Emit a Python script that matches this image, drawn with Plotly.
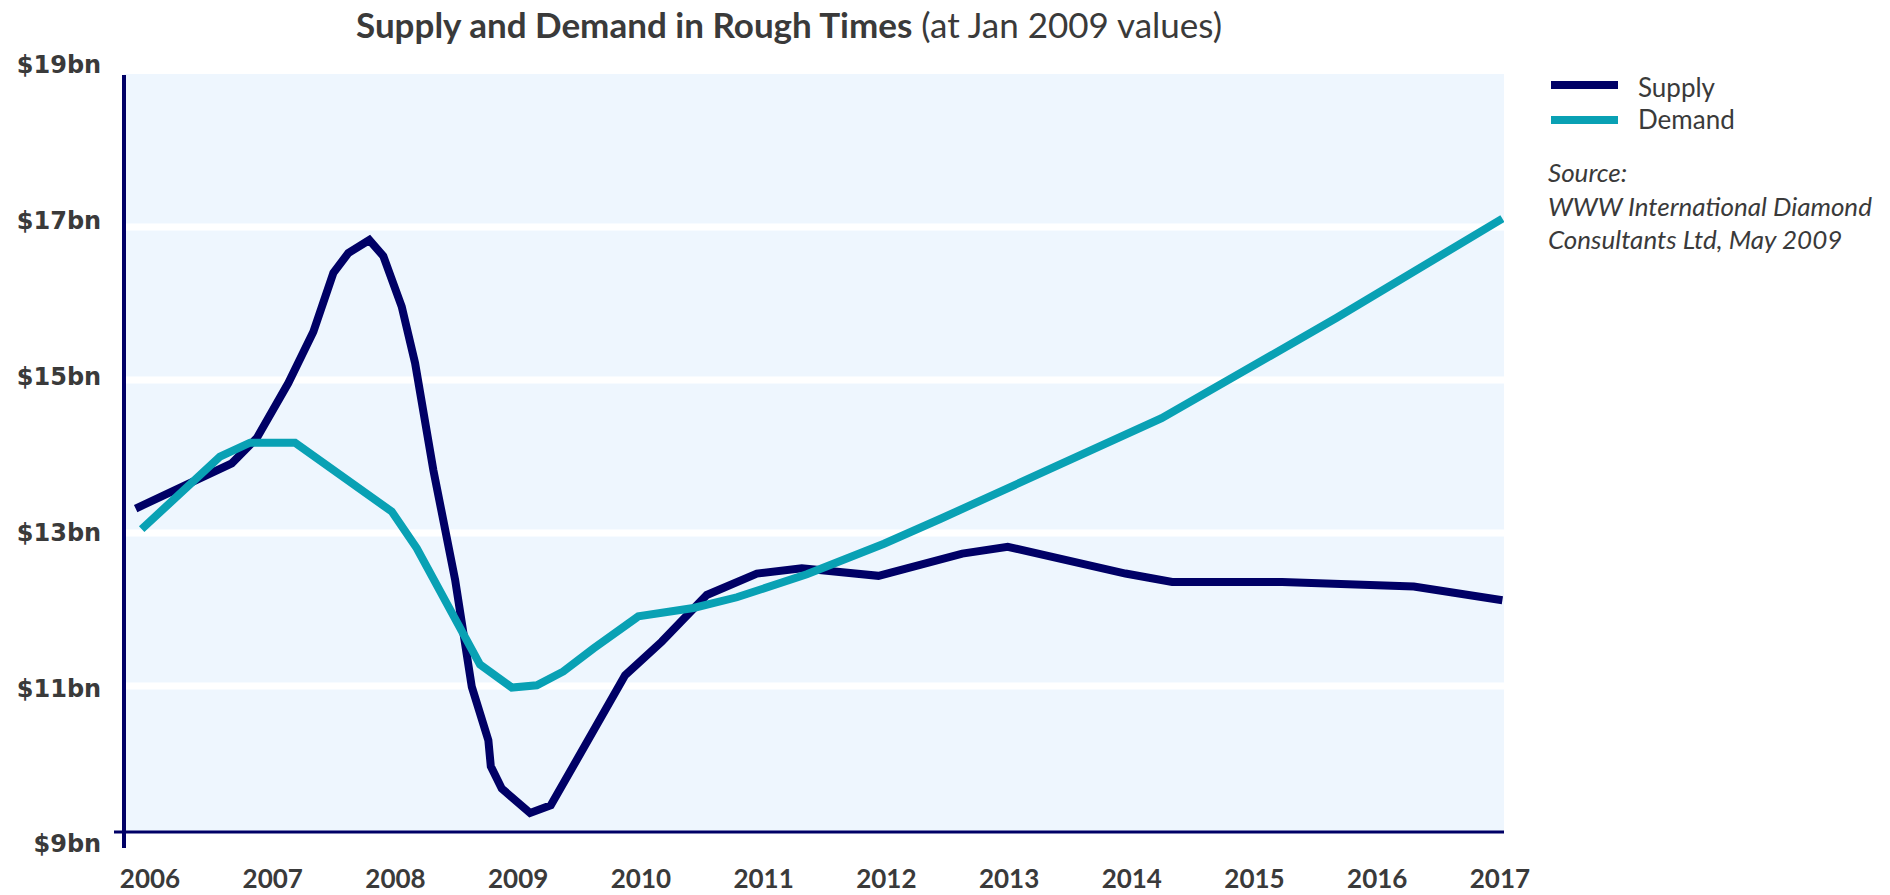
import plotly.graph_objects as go

# ---------------- data ----------------
supply_x = [2005.883, 2006.666, 2006.870, 2007.127, 2007.331, 2007.494, 2007.616, 2007.787,
            2007.901, 2008.051, 2008.160, 2008.309, 2008.486, 2008.581, 2008.622, 2008.757,
            2008.777, 2008.866, 2009.097, 2009.266, 2009.871, 2010.170, 2010.537, 2010.945,
            2011.311, 2011.936, 2012.619, 2012.989, 2013.294, 2013.949, 2014.329, 2015.226,
            2016.298, 2017.020]
supply_y = [13.32, 13.91, 14.24, 14.96, 15.63, 16.40, 16.66, 16.83,
            16.62, 15.96, 15.22, 13.82, 12.39, 11.47, 10.99, 10.29,
            9.95, 9.66, 9.34, 9.44, 11.14, 11.58, 12.19, 12.47,
            12.54, 12.44, 12.73, 12.82, 12.71, 12.47, 12.36, 12.36,
            12.30, 12.12]

demand_x = [2005.932, 2006.570, 2006.815, 2007.182, 2007.970, 2008.174, 2008.689, 2008.948,
            2009.152, 2009.368, 2009.613, 2009.979, 2010.428, 2010.782, 2011.352, 2011.981,
            2012.447, 2014.243, 2015.666, 2017.020]
demand_y = [13.05, 14.00, 14.18, 14.18, 13.28, 12.80, 11.28, 10.98,
            11.01, 11.19, 11.49, 11.91, 12.02, 12.16, 12.46, 12.86,
            13.19, 14.50, 15.81, 17.11]

series_names = ["Supply", "Demand"]
series_colors = ["#000066", "#09A1B4"]

year_ticks = list(range(2006, 2018))
year_labels = [str(y) for y in year_ticks]
value_ticks = [9, 11, 13, 15, 17, 19]
value_labels = ["$%dbn" % v for v in value_ticks]
grid_values = [11, 13, 15, 17]

title_bold = "Supply and Demand in Rough Times"
title_rest = " (at Jan 2009 values)"
source_lines = ["Source:", "WWW International Diamond", "Consultants Ltd, May 2009"]

# ---------------- figure ----------------
W, H = 1890, 895
L, R, T, B = 124, 386, 65, 51          # label frame (tick labels sit on this)
pw, ph = W - L - R, H - T - B
PLOT_TOP, PLOT_BOT = 74, 839           # data frame in pixels

FONT = "Lato, 'Open Sans', sans-serif"
TXT = "#3a3a3a"
BG = "#EEF6FE"


def px_x(p):
    return (p - L) / pw


def px_y(p):
    return (H - B - p) / ph


fig = go.Figure()
for name, xs, ys, col in [(series_names[0], supply_x, supply_y, series_colors[0]),
                          (series_names[1], demand_x, demand_y, series_colors[1])]:
    fig.add_trace(go.Scatter(x=xs, y=ys, mode="lines", name=name,
                             line=dict(color=col, width=8), showlegend=False,
                             hoverinfo="x+y"))
# empty trace so that the label axis is drawn
fig.add_trace(go.Scatter(x=[], y=[], yaxis="y2", showlegend=False, hoverinfo="skip"))

shapes = []
shapes.append(dict(type="rect", xref="paper", yref="paper", x0=0, x1=1,
                   y0=px_y(832), y1=px_y(PLOT_TOP), fillcolor=BG, line=dict(width=0),
                   layer="below"))
for g in grid_values:
    shapes.append(dict(type="line", xref="paper", yref="y", x0=0, x1=1, y0=g, y1=g,
                       line=dict(color="white", width=7), layer="below"))
shapes.append(dict(type="line", xref="paper", yref="paper", x0=0, x1=0,
                   y0=px_y(848), y1=px_y(75), line=dict(color="#000066", width=4)))
shapes.append(dict(type="line", xref="paper", yref="paper", x0=px_x(114), x1=1,
                   y0=px_y(832), y1=px_y(832), line=dict(color="#000066", width=3)))
for i, col in enumerate(series_colors):
    yy = [85, 120][i]
    shapes.append(dict(type="line", xref="paper", yref="paper", x0=px_x(1551), x1=px_x(1618),
                       y0=px_y(yy), y1=px_y(yy), line=dict(color=col, width=8)))

annotations = []
for i, name in enumerate(series_names):
    yy = [87, 119][i]
    annotations.append(dict(text=name, xref="paper", yref="paper", x=px_x(1636), y=px_y(yy),
                            xanchor="left", yanchor="middle", showarrow=False,
                            font=dict(family=FONT, size=26, color=TXT)))
for i, line in enumerate(source_lines):
    yy = [171.5, 206.5, 238.5][i]
    annotations.append(dict(text="<i>%s</i>" % line, xref="paper", yref="paper",
                            x=px_x(1546), y=px_y(yy), xanchor="left", yanchor="middle",
                            showarrow=False, font=dict(family=FONT, size=26, color=TXT)))

fig.update_layout(
    width=W, height=H, autosize=False,
    margin=dict(l=L, r=R, t=T, b=B, pad=0, autoexpand=False),
    paper_bgcolor="white", plot_bgcolor="rgba(0,0,0,0)",
    title=dict(text="<b>%s</b>%s" % (title_bold, title_rest),
               x=356 / W, xanchor="left", xref="container",
               y=1 - 26 / H, yanchor="middle", yref="container",
               font=dict(family=FONT, size=35, color=TXT)),
    xaxis=dict(range=[2005.788, 2017.033], tickmode="array", tickvals=year_ticks,
               ticktext=year_labels, showgrid=False, zeroline=False, showline=False,
               automargin=False,
               ticks="outside", ticklen=17, tickcolor="rgba(0,0,0,0)",
               tickfont=dict(family=FONT, size=26, color=TXT, weight="bold")),
    yaxis=dict(range=[9, 19], domain=[px_y(PLOT_BOT), px_y(PLOT_TOP)], automargin=False,
               showticklabels=False, showgrid=False, zeroline=False, showline=False),
    yaxis2=dict(range=[9, 19], domain=[0, 1], anchor="free", position=0, side="left",
                automargin=False,
                tickmode="array", tickvals=value_ticks, ticktext=value_labels,
                showgrid=False, zeroline=False, showline=False,
                ticks="outside", ticklen=18, tickcolor="rgba(0,0,0,0)",
                tickfont=dict(family="'DejaVu Sans', sans-serif", size=24, color=TXT,
                              weight="bold")),
    shapes=shapes, annotations=annotations, showlegend=False,
)

fig.write_html("out.html", config={"displayModeBar": False},
               post_script="document.body.style.margin='0px';")
